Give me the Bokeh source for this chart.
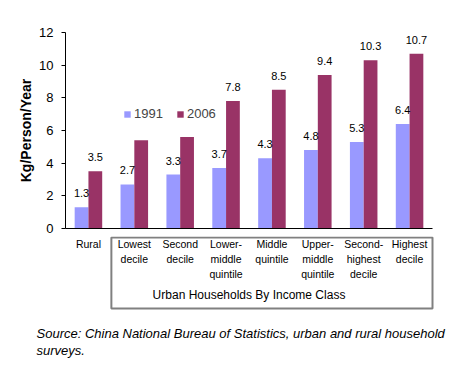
from bokeh.plotting import figure
from bokeh.layouts import column
from bokeh.models import (Range1d, ColumnDataSource, Legend, LegendItem,
                          BoxAnnotation, FixedTicker)
from bokeh.transform import dodge
from bokeh.core.properties import value
from bokeh.embed import file_html
from bokeh.resources import INLINE

# ---- data ----
categories = ["Rural", "Lowest decile", "Second decile", "Lower-middle quintile",
              "Middle quintile", "Upper-middle quintile", "Second-highest decile",
              "Highest decile"]
category_lines = [["Rural"], ["Lowest", "decile"], ["Second", "decile"],
                  ["Lower-", "middle", "quintile"], ["Middle", "quintile"],
                  ["Upper-", "middle", "quintile"], ["Second-", "highest", "decile"],
                  ["Highest", "decile"]]
values_1991 = [1.3, 2.7, 3.3, 3.7, 4.3, 4.8, 5.3, 6.4]
values_2006 = [3.5, 5.4, 5.6, 7.8, 8.5, 9.4, 10.3, 10.7]
labels_1991 = ["1.3", "2.7", "3.3", "3.7", "4.3", "4.8", "5.3", "6.4"]
labels_2006 = ["3.5", "", "", "7.8", "8.5", "9.4", "10.3", "10.7"]
y_ticks = [0, 2, 4, 6, 8, 10, 12]
group_title = "Urban Households By Income Class"
source_lines = ["Source: China National Bureau of Statistics, urban and rural household",
                "surveys."]

FONT = "Liberation Sans"
C1991 = "#9999FF"
C2006 = "#993366"

n = len(categories)
pos = [i + 0.5 for i in range(n)]  # category centres on the x scale
src = ColumnDataSource(dict(pos=pos, v1991=values_1991, v2006=values_2006,
                            l1991=labels_1991, l2006=labels_2006))

# ---- main chart ----
TOP_H = 236
p = figure(x_range=Range1d(0, n), y_range=Range1d(0, 12),
           width=469, height=TOP_H,
           min_border_left=65, min_border_right=37, min_border_top=32, min_border_bottom=8,
           output_backend="svg", toolbar_location=None)
p.frame_align = False
p.outline_line_color = None
p.grid.visible = False

r1 = p.vbar(x=dodge("pos", -0.15), top="v1991", width=0.3, source=src,
            fill_color=C1991, line_color=None)
r2 = p.vbar(x=dodge("pos", 0.15), top="v2006", width=0.3, source=src,
            fill_color=C2006, line_color=None)

for lab_col, val_col, off in (("l1991", "v1991", -0.15), ("l2006", "v2006", 0.15)):
    p.text(x=dodge("pos", off), y=val_col, text=lab_col, source=src,
           text_align="center", text_baseline="bottom", y_offset=-10,
           text_font=value(FONT), text_font_size="11px", text_color="black")

p.xaxis.ticker = FixedTicker(ticks=[])
p.xaxis.major_tick_line_color = None
p.xaxis.minor_tick_line_color = None
p.xaxis.axis_line_color = "black"

p.yaxis.ticker = FixedTicker(ticks=y_ticks)
p.yaxis.major_tick_out = 4
p.yaxis.major_tick_in = 0
p.yaxis.minor_tick_line_color = None
p.yaxis.major_label_text_font = FONT
p.yaxis.major_label_text_font_size = "13px"
p.yaxis.major_label_text_color = "black"
p.yaxis.major_label_standoff = 8
p.yaxis.axis_line_color = "black"
p.yaxis.axis_label = "Kg/Person/Year"
p.yaxis.axis_label_text_font = FONT
p.yaxis.axis_label_text_font_style = "bold"
p.yaxis.axis_label_text_font_size = "14px"
p.yaxis.axis_label_text_color = "black"
p.yaxis.axis_label_standoff = 2

legend = Legend(items=[LegendItem(label="1991", renderers=[r1]),
                       LegendItem(label="2006", renderers=[r2])],
                orientation="horizontal", location=(58, 107),
                glyph_width=8, glyph_height=8, label_standoff=3, spacing=13,
                padding=0, margin=0, label_height=14,
                label_text_font=FONT, label_text_font_size="13px",
                border_line_color=None, background_fill_alpha=0)
p.add_layout(legend, "center")

# ---- lower panel: category labels, group box, source ----
CW = 367 / n  # pixels per category (layout helper)
q = figure(x_range=Range1d(-65 / CW, (469 - 65) / CW), y_range=Range1d(384, TOP_H),
           width=469, height=384 - TOP_H, min_border=0,
           x_axis_type=None, y_axis_type=None,
           output_backend="svg", toolbar_location=None)
q.frame_align = False
q.outline_line_color = None
q.grid.visible = False

cx, cy, ct = [], [], []
for i, lines in enumerate(category_lines):
    for j, line in enumerate(lines):
        cx.append(pos[i])
        cy.append(243.5 + 15 * j)
        ct.append(line)
q.text(x=cx, y=cy, text=ct, text_align="center", text_baseline="middle",
       text_font=value(FONT), text_font_size="10.5px", text_color="black")

q.add_layout(BoxAnnotation(left=1, right=n, top=237, bottom=308,
                           fill_alpha=0, line_color="#808080", line_alpha=1,
                           line_width=2))
q.text(x=[n / 2], y=[294.5], text=[group_title], text_align="center",
       text_baseline="middle", text_font=value(FONT), text_font_size="12px",
       text_color="black")

q.text(x=[-29 / CW] * len(source_lines), y=[332.5 + 17 * k for k in range(len(source_lines))],
       text=source_lines, text_align="left", text_baseline="middle",
       text_font=value(FONT), text_font_style="italic", text_font_size="13px",
       text_color="black")

layout = column(p, q, spacing=0)
open("out.html", "w").write(file_html(layout, INLINE))
